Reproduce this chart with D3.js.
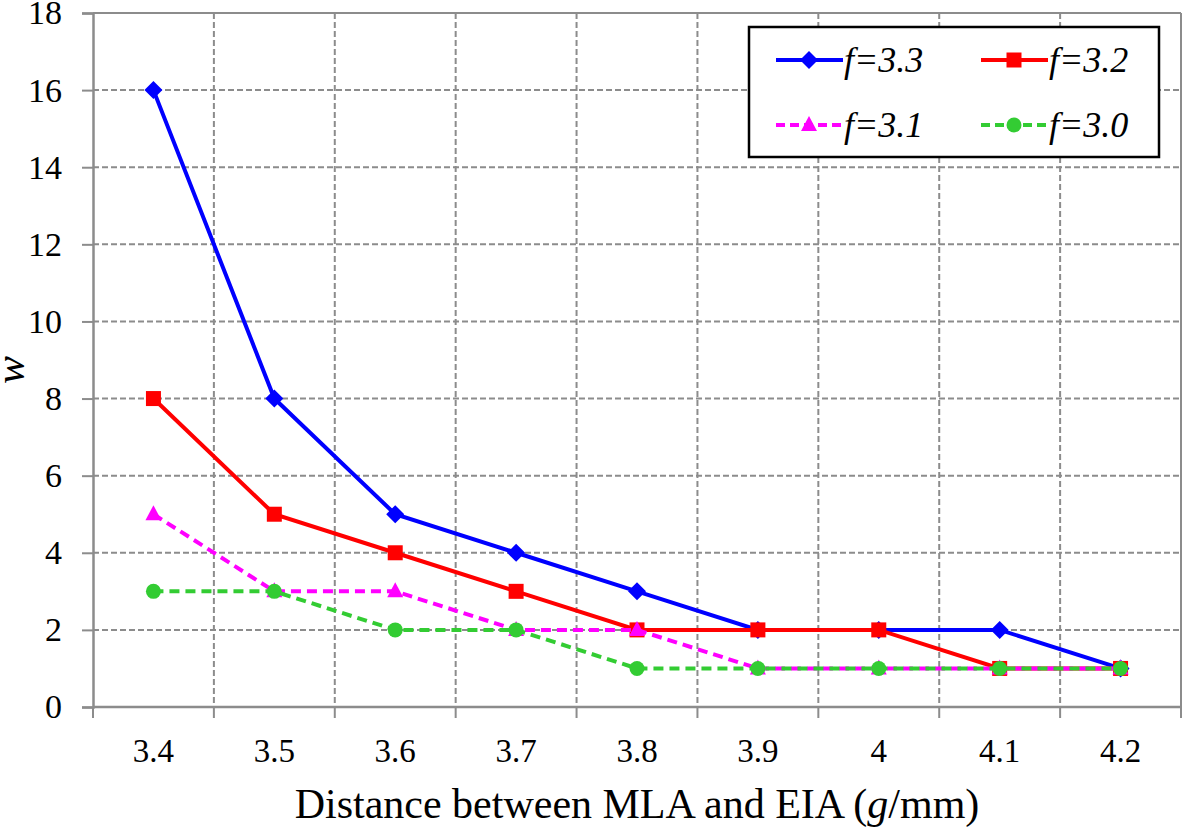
<!DOCTYPE html>
<html><head><meta charset="utf-8">
<script src="https://cdn.jsdelivr.net/npm/d3@7"></script>
</head><body style="margin:0"><svg id="c" width="1182" height="827"></svg>
<script>
const categories = ["3.4","3.5","3.6","3.7","3.8","3.9","4","4.1","4.2"];
const f33 = [16,8,5,4,3,2,2,2,1];
const f32 = [8,5,4,3,2,2,2,1,1];
const f31 = [5,3,3,2,2,1,1,1,1];
const f30 = [3,3,2,2,1,1,1,1,1];
const yTicks = [0,2,4,6,8,10,12,14,16,18];
const seriesNames = ["f=3.3","f=3.2","f=3.1","f=3.0"];

const series = [
  {name:seriesNames[0], values:f33, color:"#0000ff", dash:null, marker:"diamond"},
  {name:seriesNames[1], values:f32, color:"#ff0000", dash:null, marker:"square"},
  {name:seriesNames[2], values:f31, color:"#ff00ff", dash:"10,6", marker:"triangle"},
  {name:seriesNames[3], values:f30, color:"#33cc33", dash:"10,6", marker:"circle"}
];

const svg = d3.select("#c");
function txt(sel, size){ return sel.style("font-family", '"Liberation Serif"').style("font-size", size+"px"); }
const L=93, R=1181, T=13, B=707;
const x = d3.scaleBand().domain(categories).range([L,R]);
const y = d3.scaleLinear().domain([0,18]).range([B,T]);
const grid = "#8c8c8c";

svg.append("g").selectAll("line").data(yTicks.filter(d=>d>0&&d<18)).join("line")
  .attr("x1",L).attr("x2",R).attr("y1",d=>y(d)).attr("y2",d=>y(d))
  .attr("stroke",grid).attr("stroke-width",2).attr("stroke-dasharray","6,3");
const bounds = categories.slice(1).map(c=>x(c));
svg.append("g").selectAll("line").data(bounds).join("line")
  .attr("x1",d=>d).attr("x2",d=>d).attr("y1",T).attr("y2",B)
  .attr("stroke",grid).attr("stroke-width",2).attr("stroke-dasharray","6,3");
svg.append("line").attr("x1",L).attr("x2",R).attr("y1",T).attr("y2",T).attr("stroke",grid).attr("stroke-width",2);
svg.append("line").attr("x1",R).attr("x2",R).attr("y1",T).attr("y2",B).attr("stroke",grid).attr("stroke-width",2);

const yAxis = d3.axisLeft(y).tickValues(yTicks).tickSize(11).tickPadding(20);
const gy = svg.append("g").attr("transform",`translate(${L},0)`).call(yAxis);
gy.attr("font-family",null).attr("font-size",null);
gy.select(".domain").attr("stroke",grid).attr("stroke-width",2.5);
gy.selectAll(".tick line").attr("stroke",grid).attr("stroke-width",2);
txt(gy.selectAll(".tick text"),34).attr("fill","#000");

const gx = svg.append("g").attr("transform",`translate(0,${B})`);
gx.append("line").attr("x1",L).attr("x2",R).attr("stroke",grid).attr("stroke-width",2.5);
const allBounds = [L, ...bounds, R];
gx.selectAll("line.tk").data(allBounds).join("line").attr("class","tk")
  .attr("x1",d=>d).attr("x2",d=>d).attr("y1",0).attr("y2",11).attr("stroke",grid).attr("stroke-width",2);
txt(gx.selectAll("text").data(categories).join("text"),33)
  .attr("x",d=>x(d)+x.bandwidth()/2).attr("y",55).attr("text-anchor","middle")
  .attr("fill","#000").text(d=>d);

const xt = txt(svg.append("text"),42).attr("x",637).attr("y",818).attr("text-anchor","middle").attr("fill","#000");
xt.append("tspan").text("Distance between MLA and EIA (");
xt.append("tspan").style("font-style","italic").text("g");
xt.append("tspan").text("/mm)");
txt(svg.append("text"),42).attr("transform","translate(24,370) rotate(-90)").attr("text-anchor","middle")
  .style("font-style","italic").attr("fill","#000").text("w");

function drawMarker(g, type, cx, cy, color){
  if(type==="diamond"){
    g.append("path").attr("d",`M${cx},${cy-9}L${cx+9},${cy}L${cx},${cy+9}L${cx-9},${cy}Z`).attr("fill",color);
  } else if(type==="square"){
    g.append("rect").attr("x",cx-7.5).attr("y",cy-7.5).attr("width",15).attr("height",15).attr("fill",color);
  } else if(type==="triangle"){
    g.append("path").attr("d",`M${cx},${cy-9}L${cx+8},${cy+6}L${cx-8},${cy+6}Z`).attr("fill",color);
  } else {
    g.append("circle").attr("cx",cx).attr("cy",cy).attr("r",7.5).attr("fill",color);
  }
}

const line = d3.line().x((d,i)=>x(categories[i])+x.bandwidth()/2).y(d=>y(d));
series.forEach(s=>{
  const g = svg.append("g");
  g.append("path").attr("d",line(s.values)).attr("fill","none").attr("stroke",s.color)
    .attr("stroke-width",4).attr("stroke-dasharray",s.dash);
  s.values.forEach((v,i)=>drawMarker(g,s.marker,x(categories[i])+x.bandwidth()/2,y(v),s.color));
});

const lg = svg.append("g");
lg.append("rect").attr("x",749).attr("y",27).attr("width",410).attr("height",130)
  .attr("fill","#fff").attr("stroke","#000").attr("stroke-width",2.5);
const pos = [[776,60],[981,60],[776,125],[981,125]];
series.forEach((s,i)=>{
  const [lx,ly]=pos[i];
  lg.append("line").attr("x1",lx).attr("x2",lx+67).attr("y1",ly).attr("y2",ly)
    .attr("stroke",s.color).attr("stroke-width",4).attr("stroke-dasharray",s.dash?"9,5":null);
  drawMarker(lg,s.marker,lx+33,ly,s.color);
  txt(lg.append("text"),36).attr("x",lx+68).attr("y",ly+12)
    .style("font-style","italic").attr("fill","#000").text(s.name);
});
</script></body></html>
